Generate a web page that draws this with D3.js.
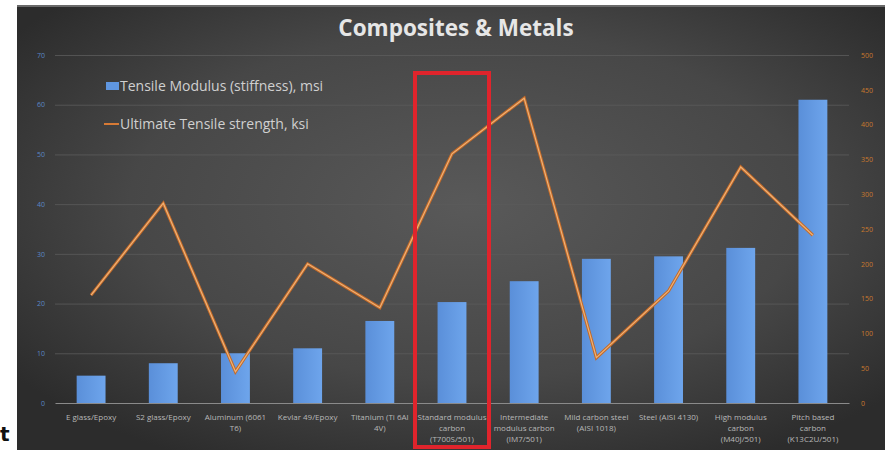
<!DOCTYPE html>
<html>
<head>
<meta charset="utf-8">
<script src="https://cdn.jsdelivr.net/npm/d3@7"></script>
<style>
  body { margin: 0; background: #fff; }
  svg { display: block; }
</style>
</head>
<body>
<svg width="885" height="450"></svg>
<script>
// materials (x categories), each label split into lines as in the picture
var materials = [
  ["E glass/Epoxy"],
  ["S2 glass/Epoxy"],
  ["Aluminum (6061", "T6)"],
  ["Kevlar 49/Epoxy"],
  ["Titanium (Ti 6Al", "4V)"],
  ["Standard modulus", "carbon", "(T700S/501)"],
  ["Intermediate", "modulus carbon", "(IM7/501)"],
  ["Mild carbon steel", "(AISI 1018)"],
  ["Steel (AISI 4130)"],
  ["High modulus", "carbon", "(M40J/501)"],
  ["Pitch based", "carbon", "(K13C2U/501)"]
];
var modulus = [5.5, 8, 10, 11, 16.5, 20.3, 24.5, 29, 29.5, 31.2, 61];
var strength = [155, 287, 45, 200, 137, 358, 438, 65, 161, 339, 241];
var leftTicks = [0, 10, 20, 30, 40, 50, 60, 70];
var rightTicks = [0, 50, 100, 150, 200, 250, 300, 350, 400, 450, 500];
var seriesNames = ["Tensile Modulus (stiffness), msi", "Ultimate Tensile strength, ksi"];

var svg = d3.select("svg");
var W = 885, H = 450;
var margin = {left: 55, right: 36, top: 55, bottom: 47};
var width = W - margin.left - margin.right;
var height = H - margin.top - margin.bottom;

// background panel with soft radial shading
var defs = svg.append("defs");
var rg = defs.append("radialGradient").attr("id", "bg")
  .attr("cx", "52%").attr("cy", "45%").attr("r", "65%");
rg.append("stop").attr("offset", "0%").attr("stop-color", "#595959");
rg.append("stop").attr("offset", "60%").attr("stop-color", "#474747");
rg.append("stop").attr("offset", "100%").attr("stop-color", "#2c2c2c");
var bg = defs.append("linearGradient").attr("id", "bar")
  .attr("x1", 0).attr("x2", 1).attr("y1", 0).attr("y2", 0);
bg.append("stop").attr("offset", "0%").attr("stop-color", "#5a8fd9");
bg.append("stop").attr("offset", "100%").attr("stop-color", "#6ea5ec");

svg.append("rect").attr("x", 17).attr("y", 5).attr("width", W - 17).attr("height", H - 5)
  .attr("fill", "url(#bg)");
svg.append("rect").attr("x", 17).attr("y", 5).attr("width", W - 17).attr("height", 2)
  .attr("fill", "#6a6a6a");

svg.append("text")
  .attr("x", 456).attr("y", 36)
  .attr("text-anchor", "middle")
  .text("Composites & Metals")
  .style("font-family", "'Open Sans', sans-serif")
  .style("font-weight", "bold")
  .style("font-size", "22.5px")
  .attr("fill", "#e6e6e6");

var g = svg.append("g")
  .attr("transform", "translate(" + margin.left + "," + margin.top + ")");

var x = d3.scaleBand()
  .domain(d3.range(materials.length))
  .range([0, width])
  .paddingInner(0.6).paddingOuter(0.3);

var y = d3.scaleLinear().domain([0, 70]).range([height, 0]);
var y2 = d3.scaleLinear().domain([0, 500]).range([height, 0]);

// gridlines
g.append("g")
  .call(d3.axisLeft(y).tickValues(leftTicks).tickSize(-width).tickFormat(""))
  .call(function (a) {
    a.select(".domain").remove();
    a.selectAll("line").attr("stroke", "#5c5c5c").attr("stroke-width", 0.8);
    a.selectAll(".tick").filter(function (d) { return d === 0; }).remove();
  });

// left axis
g.append("g")
  .call(d3.axisLeft(y).tickValues(leftTicks).tickSize(0).tickPadding(10))
  .call(function (a) {
    a.select(".domain").remove();
    a.selectAll("text").attr("fill", "#5a86c4")
      .style("font-family", "'Open Sans', sans-serif").style("font-size", "7px");
  });

// right axis
g.append("g")
  .attr("transform", "translate(" + width + ",0)")
  .call(d3.axisRight(y2).tickValues(rightTicks).tickSize(0).tickPadding(12))
  .call(function (a) {
    a.select(".domain").remove();
    a.selectAll("text").attr("fill", "#c8782e")
      .style("font-family", "'Open Sans', sans-serif").style("font-size", "7px");
  });

// bars
g.selectAll(".bar")
  .data(modulus)
  .enter().append("rect")
  .attr("class", "bar")
  .attr("x", function (d, i) { return x(i); })
  .attr("y", function (d) { return y(d); })
  .attr("width", x.bandwidth())
  .attr("height", function (d) { return height - y(d); })
  .attr("fill", "url(#bar)");

// baseline + category labels
g.append("g")
  .attr("transform", "translate(0," + height + ")")
  .call(d3.axisBottom(x).tickSize(0).tickFormat(""))
  .call(function (a) {
    a.select(".domain").attr("stroke", "#8a8a8a").attr("stroke-width", 1);
    a.selectAll(".tick").each(function (d) {
      var t = d3.select(this).append("text")
        .attr("fill", "#b8b8b8")
        .attr("text-anchor", "middle")
        .style("font-family", "'Open Sans', sans-serif")
        .style("font-size", "8px");
      materials[d].forEach(function (line, k) {
        t.append("tspan").attr("x", 0).attr("y", 17 + k * 11).text(line);
      });
    });
  });

// strength line
var line = d3.line()
  .x(function (d, i) { return x(i) + x.bandwidth() / 2; })
  .y(function (d) { return y2(d); });

g.append("path").datum(strength)
  .attr("d", line).attr("fill", "none")
  .attr("stroke", "#c46a28").attr("stroke-width", 3.2).attr("stroke-linejoin", "miter");
g.append("path").datum(strength)
  .attr("d", line).attr("fill", "none")
  .attr("stroke", "#eeb277").attr("stroke-width", 1.2).attr("stroke-linejoin", "miter");

// legend
var lg = svg.append("g").style("font-family", "'Open Sans', sans-serif").style("font-size", "14px");
lg.append("rect").attr("x", 106).attr("y", 82).attr("width", 13).attr("height", 8).attr("fill", "#5f96e0");
lg.append("text").attr("x", 120).attr("y", 91).attr("fill", "#d0d0d0").text(seriesNames[0]);
lg.append("line").attr("x1", 104).attr("x2", 119).attr("y1", 124).attr("y2", 124)
  .attr("stroke", "#d77a35").attr("stroke-width", 2);
lg.append("text").attr("x", 120).attr("y", 129).attr("fill", "#d0d0d0").text(seriesNames[1]);

// highlight box
svg.append("rect")
  .attr("x", 415).attr("y", 73).attr("width", 74).attr("height", 374)
  .attr("fill", "none").attr("stroke", "#e0242c").attr("stroke-width", 4);

// stray glyph at the lower left edge
svg.append("text").attr("x", 0).attr("y", 441).text("t")
  .style("font-family", "'DejaVu Sans', sans-serif").style("font-weight", "bold")
  .style("font-size", "20px").attr("fill", "#111");
</script>
</body>
</html>
